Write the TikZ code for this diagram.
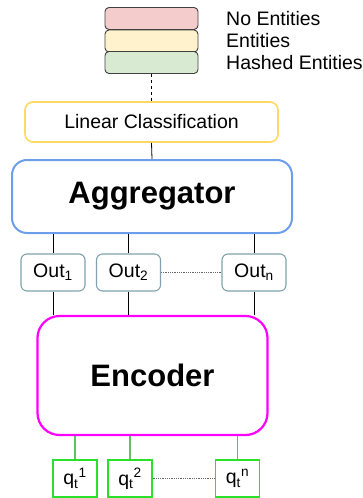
\documentclass[tikz,border=0pt]{standalone}
\usepackage{fontspec}
\setmainfont{Liberation Sans}
\usetikzlibrary{positioning,calc}
\usepackage{xcolor}

\definecolor{nonecol}{RGB}{244,204,204}
\definecolor{entcol}{RGB}{255,242,204}
\definecolor{hashcol}{RGB}{217,234,211}
\definecolor{lincol}{RGB}{255,217,102}
\definecolor{aggcol}{RGB}{109,158,235}
\definecolor{outcol}{RGB}{128,162,172}
\definecolor{enccol}{RGB}{255,0,255}
\definecolor{qcol}{RGB}{40,225,40}
\definecolor{qline}{RGB}{100,190,100}

\begin{document}
\begin{tikzpicture}[
    x=1pt, y=-1pt,
    legendbox/.style={draw=black!75, line width=0.9pt, rounded corners=4pt, minimum width=93pt, minimum height=22pt, inner sep=0pt},
    legendtext/.style={anchor=west, font=\fontsize{19.5}{22}\selectfont, inner sep=0pt},
    linbox/.style={draw=lincol, line width=1.6pt, rounded corners=8pt, minimum width=253pt, minimum height=40pt, font=\fontsize{19.5}{22}\selectfont},
    bigbox/.style={draw, line width=2pt, font=\fontsize{31}{34}\selectfont\bfseries},
    outbox/.style={draw=outcol, line width=1.1pt, rounded corners=6pt, minimum width=64pt, minimum height=37pt, inner sep=0pt, font=\fontsize{19.5}{22}\selectfont},
    qbox/.style={draw=qcol, line width=1.2pt, minimum width=44pt, minimum height=37pt, inner sep=0pt, font=\fontsize{19.5}{22}\selectfont},
    link/.style={line width=0.8pt}
]
\useasboundingbox (0,0) rectangle (363,498);

% legend
\node[legendbox, fill=nonecol] (none) at (151.5,18.5) {};
\node[legendbox, fill=entcol] (ent) at (151.5,41) {};
\node[legendbox, fill=hashcol] (hash) at (151.5,62.5) {};
\node[legendtext] (tnone) at (226,18.5) {No Entities};
\node[legendtext] (tent) at (226,40.5) {Entities};
\node[legendtext] (thash) at (226,62.5) {Hashed Entities};

% model
\node[linbox] (lin) at (151.5,122) {Linear Classification};
\node[bigbox, draw=aggcol, rounded corners=15pt, minimum width=280pt, minimum height=73pt] (agg) at (152,196.5) {Aggregator};

\node[outbox] (out1) at (53,272.5) {Out\textsubscript{1}};
\node[outbox] (out2) at (128.5,272.5) {Out\textsubscript{2}};
\node[outbox] (outn) at (254,272.5) {Out\textsubscript{n}};

\node[bigbox, draw=enccol, line width=2.2pt, rounded corners=22pt, minimum width=230pt, minimum height=119pt] (enc) at (152.5,375.5) {Encoder};

\node[qbox] (q1) at (75,478.5) {q\textsubscript{t}\textsuperscript{1}};
\node[qbox] (q2) at (130,478.5) {q\textsubscript{t}\textsuperscript{2}};
\node[qbox] (qn) at (237.5,478.5) {q\textsubscript{t}\textsuperscript{n}};

\draw[link, dashed] (hash.south) -- (lin.north);
\draw[link] (lin.south) -- (agg.north);
\foreach \o in {out1,out2,outn} {
    \draw[link] (\o.north) -- (\o.north |- agg.south);
    \draw[link] (\o.south) -- (\o.south |- enc.north);
}
\draw[link, densely dotted, black!60] (out2.east) -- (outn.west);
\foreach \q in {q1,q2,qn}
    \draw[link, qline, line width=1.2pt] (\q.north) -- (\q.north |- enc.south);
\draw[link, densely dotted, black!60] (q2.east) -- (qn.west);
\end{tikzpicture}
\end{document}
